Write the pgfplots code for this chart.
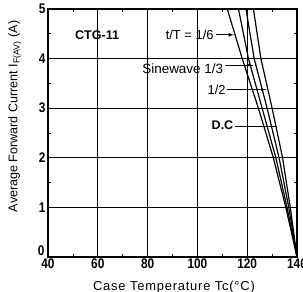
\documentclass[border=0pt]{standalone}
\usepackage{pgfplots}
\pgfplotsset{compat=1.18}
\usepackage{fontspec}
\setmainfont{Liberation Sans}
\newfontfamily\tickfont{Liberation Sans}[FakeStretch=0.85]
\newfontfamily\xlabfont{Liberation Sans}[LetterSpace=6]
\begin{document}
\begin{tikzpicture}[x=1bp,y=1bp]
\begin{axis}[name=ax, at={(0,0)}, anchor=south west,
  scale only axis, width=249bp, height=248bp,
  xmin=40, xmax=140, ymin=0, ymax=5,
  xtick={40,60,...,140}, ytick={1,...,5},
  extra y ticks={0},
  extra y tick style={grid=none, yticklabel style={yshift=6bp, xshift=-1bp}},
  minor x tick num=1, minor y tick num=1,
  grid=major, major grid style={black, line width=1pt},
  axis line style={line width=1.4pt},
  tick style={black, line width=0.8pt},
  major tick length=0pt, minor tick length=3bp, tick align=inside,
  /pgf/number format/assume math mode=true,
  ticklabel style={font=\tickfont\bfseries\fontsize{14}{14}\selectfont},
  xticklabel style={yshift=2bp},
  yticklabel style={xshift=1bp},
  xlabel={Case Temperature Tc(°C)},
  ylabel={Average Forward Current I\textsubscript{F(AV)} (A)},
  xlabel style={at={(axis description cs:0.506,-0.12)}, anchor=center, font=\xlabfont\fontsize{13}{13}\selectfont},
  ylabel style={at={(axis description cs:-0.133,0.567)}, anchor=center, font=\fontsize{12.6}{12.6}\selectfont},
  clip=false,
]
% t/T = 1/6
\addplot[black, line width=1.2pt] coordinates {(112,5) (118,4) (124.5,3) (130.5,2) (135.5,1) (140,0)};
% Sinewave 1/3
\addplot[black, line width=1.2pt] coordinates {(116.5,5) (120.5,4) (126,3) (131.5,2) (136,1) (140,0)};
% 1/2
\addplot[black, line width=1.2pt] coordinates {(119.5,5) (122.8,4) (128,3) (132.8,2) (136.7,1) (140,0)};
% D.C
\addplot[black, line width=1.2pt] coordinates {(122.5,5) (125.5,4) (130,3) (134.2,2) (137.3,1) (140,0)};

\node[font=\bfseries\fontsize{12.6}{12.6}\selectfont] at (axis cs:59.7,4.48) {CTG-11};
\node[font=\fontsize{13}{13}\selectfont, anchor=east, inner sep=0pt] at (axis cs:106.6,4.48) {t/T = 1/6};
\draw[black, line width=0.8pt, -latex] (axis cs:107.6,4.48) -- (axis cs:114.6,4.48);
\node[font=\fontsize{13.5}{13.5}\selectfont, anchor=east, inner sep=0pt] at (axis cs:110.4,3.80) {Sinewave 1/3};
\draw[black, line width=0.8pt] (axis cs:111,3.87) -- (axis cs:122.5,3.87);
\fill[black] (axis cs:120.8,3.87) circle (1.5bp);
\node[font=\fontsize{13}{13}\selectfont, anchor=east, inner sep=0pt] at (axis cs:111.4,3.37) {1/2};
\draw[black, line width=0.8pt] (axis cs:112,3.37) -- (axis cs:127.5,3.37);
\fill[black] (axis cs:126,3.37) circle (1.5bp);
\node[font=\bfseries\fontsize{12.6}{12.6}\selectfont, anchor=east, inner sep=0pt] at (axis cs:114.5,2.66) {D.C};
\draw[black, line width=0.8pt] (axis cs:115,2.64) -- (axis cs:132,2.64);
\end{axis}
\pgfresetboundingbox
\path[use as bounding box] (-48,-35) rectangle (255,257);
\end{tikzpicture}
\end{document}
